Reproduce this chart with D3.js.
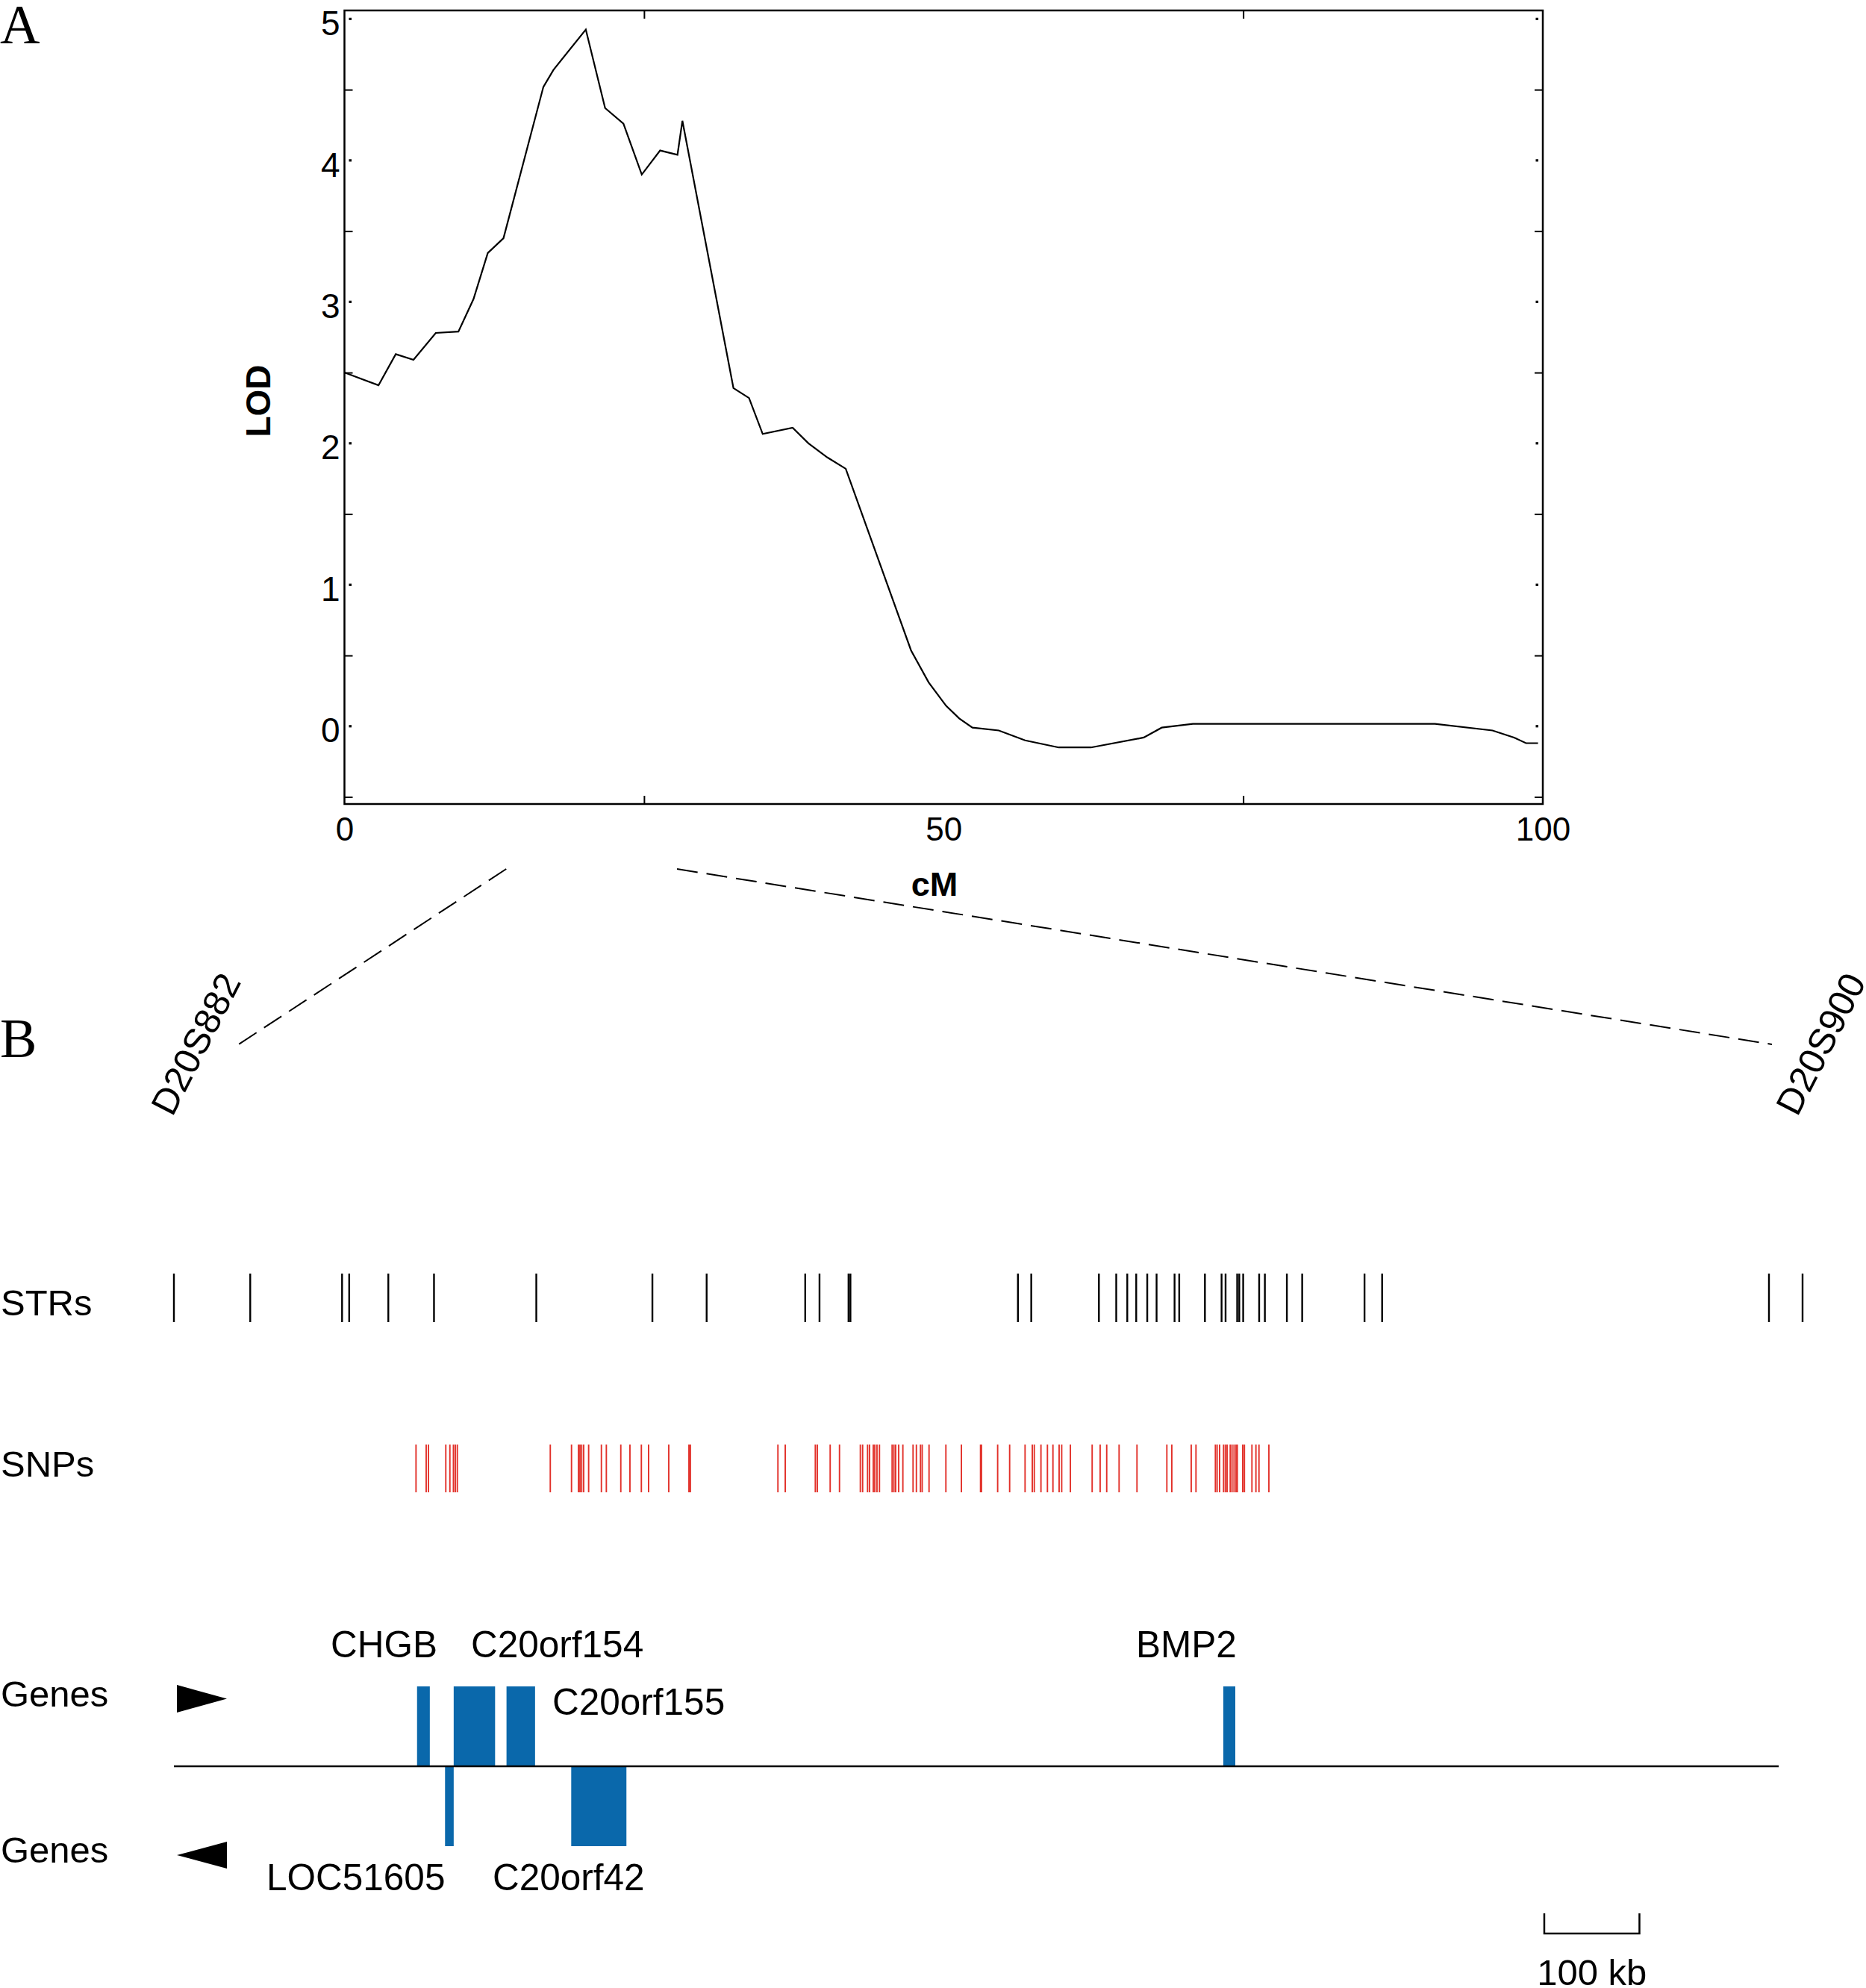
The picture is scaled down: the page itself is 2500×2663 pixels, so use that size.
<!DOCTYPE html>
<html>
<head>
<meta charset="utf-8">
<script src="https://cdn.jsdelivr.net/npm/d3@7"></script>
<style>
  body { margin: 0; background: #fff; }
  svg { display: block; }
  text { font-family: "Liberation Sans", Arial, sans-serif; }
</style>
</head>
<body>
<svg id="fig" width="2500" height="2663"></svg>
<script>
// panel A: LOD curve, [cM, LOD]
const lodCurve = [
  [0, 2.50], [2.84, 2.41], [4.28, 2.63], [5.76, 2.59], [7.62, 2.78], [9.51, 2.79],
  [10.77, 3.02], [11.96, 3.345], [13.27, 3.45], [16.6, 4.52], [17.44, 4.64],
  [20.14, 4.925], [21.75, 4.37], [23.28, 4.26], [24.81, 3.90], [26.34, 4.07],
  [27.79, 4.04], [28.2, 4.28], [32.46, 2.39], [33.76, 2.32], [34.9, 2.066],
  [37.4, 2.11], [38.72, 2.0], [40.3, 1.9], [41.83, 1.82], [47.28, 0.536],
  [48.75, 0.31], [50.2, 0.145], [51.3, 0.055], [52.4, -0.01], [54.6, -0.03],
  [56.8, -0.10], [59.6, -0.15], [62.3, -0.15], [66.7, -0.08], [68.2, -0.01],
  [70.8, 0.017], [91.0, 0.017], [95.8, -0.03], [97.6, -0.08], [98.6, -0.12], [99.6, -0.12]
];
const yLabelTicks = [0, 1, 2, 3, 4, 5];
const yMinorTicks = [-0.5, 0.5, 1.5, 2.5, 3.5, 4.5];
const xLabelTicks = [0, 50, 100];
const xMinorTicks = [25, 75];

// flanking markers (position on the cM axis)
const flankMarkers = [
  { name: 'D20S882', cM: 13.5 },
  { name: 'D20S900', cM: 27.75 }
];

// panel B: positions in kb from D20S882
const strKb = [
  0, 80.2, 176.7, 184.2, 225.3, 273.3, 380.8, 502.8, 559.8, 663.4, 678.4, 708.9, 710.9,
  886.9, 900.9, 972.0, 990.2, 1001.8, 1011.2, 1022.8, 1032.6, 1051.5, 1056.4, 1083.4,
  1100.9, 1105.1, 1117.3, 1119.5, 1123.6, 1140.4, 1146.4, 1169.5, 1185.6, 1251.1,
  1269.6, 1676.1, 1711.4
];
const snpKb = [
  254.4, 265.1, 267.5, 285.7, 290.0, 293.7, 295.7, 297.8, 395.5, 417.8, 425.1, 426.7,
  428.5, 430.6, 435.8, 449.2, 454.4, 469.6, 479.2, 491.2, 498.8, 520.0, 541.2, 542.7,
  634.7, 642.4, 674.0, 676.1, 689.6, 699.4, 721.3, 723.7, 728.9, 731.0, 734.9, 736.5,
  738.8, 741.4, 754.7, 756.6, 758.4, 761.6, 766.0, 776.7, 780.2, 784.5, 786.3, 793.5,
  811.2, 827.5, 847.6, 848.6, 865.6, 878.2, 894.4, 902.0, 904.1, 911.1, 917.9, 923.7,
  930.2, 932.9, 942.0, 964.9, 973.3, 980.2, 993.2, 1012.0, 1043.4, 1048.6, 1069.0,
  1074.0, 1094.4, 1096.2, 1098.8, 1103.0, 1104.9, 1106.7, 1110.0, 1111.9, 1114.0,
  1116.1, 1117.4, 1123.1, 1124.9, 1132.8, 1137.0, 1140.2, 1150.6
];
const geneNames  = ['CHGB', 'C20orf154', 'C20orf155', 'BMP2', 'LOC51605', 'C20orf42'];
const geneStart  = [255.5, 294.0, 349.5, 1102.7, 284.9, 417.5];
const geneEnd    = [268.9, 337.5, 379.5, 1115.3, 294.0, 475.5];
const geneStrand = [1, 1, 1, 1, -1, -1];
const regionKb = 1686.3;
const scaleBarKb = [1440, 1540];

const svg = d3.select('#fig');
const ink = '#000';
const geneBlue = '#0a68ab';
const snpRed = '#e2312a';

// ---------- panel A ----------
const pL = 461.5, pR = 2067, pT = 14, pB = 1077;
const x = d3.scaleLinear().domain([0, 100]).range([pL, pR]);
const y = d3.scaleLinear().domain([-0.55, 5.06]).range([pB, pT]);

const gA = svg.append('g');

gA.append('rect')
  .attr('x', pL).attr('y', pT)
  .attr('width', pR - pL).attr('height', pB - pT)
  .attr('fill', 'none').attr('stroke', ink).attr('stroke-width', 2.5);

function plain(g, size) {
  g.select('.domain').remove();
  g.selectAll('line').attr('stroke', ink).attr('stroke-width', 2);
  g.selectAll('text').attr('fill', ink).style('font-size', (size || 44) + 'px')
    .style('font-family', '"Liberation Sans", Arial, sans-serif');
}

gA.append('g').attr('transform', `translate(${pL},0)`)
  .call(d3.axisRight(y).tickValues(yMinorTicks).tickSize(11).tickFormat(''))
  .call(plain);
gA.append('g').attr('transform', `translate(${pR},0)`)
  .call(d3.axisLeft(y).tickValues(yMinorTicks).tickSize(11).tickFormat(''))
  .call(plain);
gA.append('g').attr('transform', `translate(${pL},0)`)
  .call(d3.axisLeft(y).tickValues(yLabelTicks).tickSize(0).tickPadding(6).tickFormat(d3.format('d')))
  .call(plain, 46)
  .selectAll('text').attr('dy', '0.46em');
gA.append('g').attr('transform', `translate(0,${pT})`)
  .call(d3.axisBottom(x).tickValues(xMinorTicks).tickSize(11).tickFormat(''))
  .call(plain);
gA.append('g').attr('transform', `translate(0,${pB})`)
  .call(d3.axisTop(x).tickValues(xMinorTicks).tickSize(11).tickFormat(''))
  .call(plain);
gA.append('g').attr('transform', `translate(0,${pB})`)
  .call(d3.axisBottom(x).tickValues(xLabelTicks).tickSize(0).tickPadding(18).tickFormat(d3.format('d')))
  .call(plain);

// integer ticks show up only as small dots next to the labels
gA.append('g').selectAll('line').data(yLabelTicks).join('line')
  .attr('x1', pL + 6).attr('x2', pL + 9.5)
  .attr('y1', d => y(d)).attr('y2', d => y(d))
  .attr('stroke', ink).attr('stroke-width', 3.2);
gA.append('g').selectAll('line').data(yLabelTicks).join('line')
  .attr('x1', pR - 9.5).attr('x2', pR - 6)
  .attr('y1', d => y(d)).attr('y2', d => y(d))
  .attr('stroke', ink).attr('stroke-width', 3.2);

gA.append('path')
  .datum(lodCurve)
  .attr('fill', 'none').attr('stroke', ink).attr('stroke-width', 2.2)
  .attr('stroke-linejoin', 'miter')
  .attr('d', d3.line().x(d => x(d[0])).y(d => y(d[1])));

gA.append('text')
  .attr('transform', 'translate(362,537) rotate(-90)')
  .attr('text-anchor', 'middle')
  .style('font-size', '46px').style('font-weight', 'bold')
  .text('LOD');
gA.append('text')
  .attr('x', 1252).attr('y', 1200)
  .attr('text-anchor', 'middle')
  .style('font-size', '45px').style('font-weight', 'bold')
  .text('cM');

svg.append('text').attr('x', 0).attr('y', 58)
  .style('font-family', '"Liberation Serif", "Times New Roman", serif')
  .style('font-size', '74px').text('A');
svg.append('text').attr('x', 0).attr('y', 1416)
  .style('font-family', '"Liberation Serif", "Times New Roman", serif')
  .style('font-size', '74px').text('B');

// ---------- zoom lines + flanking marker names ----------
const zoomEnds = [[312, 1404], [2374, 1399]];
svg.append('g').selectAll('line').data(flankMarkers).join('line')
  .attr('x1', d => x(d.cM)).attr('y1', 1164)
  .attr('x2', (d, i) => zoomEnds[i][0]).attr('y2', (d, i) => zoomEnds[i][1])
  .attr('stroke', ink).attr('stroke-width', 2)
  .attr('stroke-dasharray', '28,12');

const markerAnchor = [[231, 1497], [2408, 1497]];
svg.append('g').selectAll('text').data(flankMarkers).join('text')
  .attr('transform', (d, i) => `translate(${markerAnchor[i][0]},${markerAnchor[i][1]}) rotate(-63)`)
  .style('font-size', '49px')
  .text(d => d.name);

// ---------- panel B tracks ----------
const xKb = d3.scaleLinear().domain([0, regionKb]).range([233, 2383]);

const rowLabels = [
  { t: 'STRs', y: 1762 },
  { t: 'SNPs', y: 1978 },
  { t: 'Genes', y: 2286 },
  { t: 'Genes', y: 2495 }
];
svg.append('g').selectAll('text').data(rowLabels).join('text')
  .attr('x', 1).attr('y', d => d.y)
  .style('font-size', '49px')
  .text(d => d.t);

svg.append('g').selectAll('line').data(strKb).join('line')
  .attr('x1', d => xKb(d)).attr('x2', d => xKb(d))
  .attr('y1', 1706).attr('y2', 1771)
  .attr('stroke', ink).attr('stroke-width', 2.4);

svg.append('g').selectAll('line').data(snpKb).join('line')
  .attr('x1', d => xKb(d)).attr('x2', d => xKb(d))
  .attr('y1', 1935).attr('y2', 1999)
  .attr('stroke', snpRed).attr('stroke-width', 1.9);

const baseY = 2366, geneH = 107;
const genes = geneNames.map((n, i) => ({ name: n, start: geneStart[i], end: geneEnd[i], strand: geneStrand[i] }));

svg.append('g').selectAll('rect').data(genes).join('rect')
  .attr('x', d => xKb(d.start))
  .attr('width', d => xKb(d.end) - xKb(d.start))
  .attr('y', d => d.strand > 0 ? baseY - geneH : baseY)
  .attr('height', geneH)
  .attr('fill', geneBlue);

svg.append('line')
  .attr('x1', xKb(0)).attr('x2', xKb(regionKb))
  .attr('y1', baseY).attr('y2', baseY)
  .attr('stroke', ink).attr('stroke-width', 2.5);

// strand arrows
svg.append('path').attr('d', 'M237,2257 L304,2275.5 L237,2294 Z').attr('fill', ink);
svg.append('path').attr('d', 'M304,2467 L237,2485 L304,2503 Z').attr('fill', ink);

// gene labels (hand placed like the original)
const geneLabelPos = {
  'CHGB':      [443, 2220],
  'C20orf154': [631, 2220],
  'C20orf155': [740, 2297],
  'BMP2':      [1522, 2220],
  'LOC51605':  [357, 2532],
  'C20orf42':  [660, 2532]
};
svg.append('g').selectAll('text').data(genes).join('text')
  .attr('x', d => geneLabelPos[d.name][0])
  .attr('y', d => geneLabelPos[d.name][1])
  .style('font-size', '49.5px')
  .text(d => d.name);

// scale bar
const sb = svg.append('g');
sb.append('path')
  .attr('d', `M${xKb(scaleBarKb[0])},2563 V2590 H${xKb(scaleBarKb[1])} V2563`)
  .attr('fill', 'none').attr('stroke', ink).attr('stroke-width', 2.5);
sb.append('text')
  .attr('x', (xKb(scaleBarKb[0]) + xKb(scaleBarKb[1])) / 2).attr('y', 2659)
  .attr('text-anchor', 'middle')
  .style('font-size', '49px')
  .text(`${scaleBarKb[1] - scaleBarKb[0]} kb`);
</script>
</body>
</html>
